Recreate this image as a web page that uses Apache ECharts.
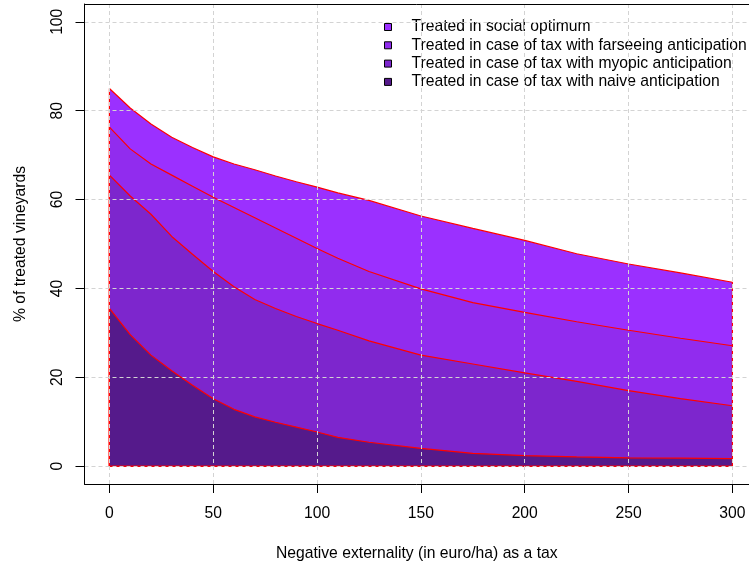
<!DOCTYPE html>
<html>
<head>
<meta charset="utf-8">
<script src="https://cdn.jsdelivr.net/npm/echarts@6/dist/echarts.min.js"></script>
<style>html,body{margin:0;padding:0;background:#fff}#c{width:749px;height:564px}</style>
</head>
<body>
<div id="c"></div>
<script>
// ---- data ----
var taxLevels = [0, 10, 20, 30, 40, 50, 60, 70, 80, 90, 100, 110, 125, 150, 175, 200, 225, 250, 275, 300];
var socialOptimum = [85, 80.6, 77, 74, 71.7, 69.6, 68, 66.7, 65.3, 64, 62.8, 61.5, 59.8, 56.3, 53.5, 50.8, 47.8, 45.5, 43.5, 41.4];
var farseeing = [76.3, 71.4, 68, 65.5, 63, 60.5, 58.2, 55.9, 53.6, 51.3, 49, 46.8, 43.8, 39.9, 36.8, 34.6, 32.5, 30.6, 28.8, 27.1];
var myopic = [65.5, 60.8, 56.7, 51.7, 47.7, 43.8, 40.4, 37.5, 35.5, 33.7, 32.1, 30.6, 28.2, 25, 23, 21, 19.1, 17, 15.2, 13.6];
var naive = [35.5, 29.6, 25, 21.5, 18.2, 15.2, 12.8, 11.1, 9.9, 8.8, 7.7, 6.5, 5.4, 4.0, 2.9, 2.4, 2.1, 1.9, 1.8, 1.7];
var seriesNames = [
  'Treated in social optimum',
  'Treated in case of tax with farseeing anticipation',
  'Treated in case of tax with myopic anticipation',
  'Treated in case of tax with naive anticipation'
];
var xTicks = [0, 50, 100, 150, 200, 250, 300];
var yTicks = [0, 20, 40, 60, 80, 100];

var fills = ['#9B30FF', '#912CEE', '#7D26CD', '#551A8B'];
var allValues = [socialOptimum, farseeing, myopic, naive];

function polygon(vals) {
  var pts = [[taxLevels[0], 0]];
  for (var i = 0; i < taxLevels.length; i++) pts.push([taxLevels[i], vals[i]]);
  pts.push([taxLevels[taxLevels.length - 1], 0]);
  pts.push([taxLevels[0], 0]);
  return pts;
}

var FONT = 'Liberation Sans, Arial, sans-serif';
var FS = 15.7;
var chart = echarts.init(document.getElementById('c'), null, {renderer: 'canvas'});
var series = allValues.map(function (v, i) {
  return {
    name: seriesNames[i],
    type: 'line',
    data: polygon(v),
    showSymbol: false,
    symbol: 'none',
    smooth: false,
    animation: false,
    z: 2 + i,
    itemStyle: {color: fills[i]},
    lineStyle: {color: '#FF0000', width: 1.2},
    areaStyle: {color: fills[i], opacity: 1}
  };
});

var gridLine = {show: true, lineStyle: {color: '#D3D3D3', type: [4, 3], width: 1}};

chart.setOption({
  animation: false,
  backgroundColor: '#fff',
  grid: {left: 84.5, top: 4, right: 0, bottom: 80, show: false, containLabel: false, outerBoundsMode: 'none'},
  legend: {
    orient: 'vertical',
    left: 379,
    top: 13,
    icon: 'rect',
    itemWidth: 7,
    itemHeight: 7,
    itemGap: 0.3,
    selectedMode: false,
    textStyle: {fontFamily: FONT, fontSize: FS, color: '#000', padding: [0, 0, 0, 15], lineHeight: 18},
    data: seriesNames.map(function (n, i) {
      return {name: n, icon: 'rect', itemStyle: {color: fills[i], borderColor: '#000', borderWidth: 1}};
    })
  },
  xAxis: [{
    type: 'value',
    min: -12,
    max: 308,
    z: 10,
    name: 'Negative externality (in euro/ha) as a tax',
    nameLocation: 'middle',
    nameGap: 62,
    nameTextStyle: {fontFamily: FONT, fontSize: FS, color: '#000'},
    axisLine: {show: true, onZero: false, lineStyle: {color: '#000', width: 1}},
    axisTick: {show: true, length: 9, customValues: xTicks, lineStyle: {color: '#000'}},
    axisLabel: {customValues: xTicks, margin: 22, fontFamily: FONT, fontSize: FS, color: '#000'},
    splitLine: gridLine
  }, {
    type: 'value',
    position: 'top',
    min: -12,
    max: 308,
    z: 10,
    axisLine: {show: true, onZero: false, lineStyle: {color: '#000', width: 1}},
    axisTick: {show: false},
    axisLabel: {show: false},
    splitLine: {show: false}
  }],
  yAxis: {
    type: 'value',
    min: -4,
    max: 104,
    z: 10,
    name: '% of treated vineyards',
    nameLocation: 'middle',
    nameGap: 56,
    nameRotate: 90,
    nameTextStyle: {fontFamily: FONT, fontSize: FS, color: '#000'},
    axisLine: {show: true, onZero: false, lineStyle: {color: '#000', width: 1}},
    axisTick: {show: true, length: 9, customValues: yTicks, lineStyle: {color: '#000'}},
    axisLabel: {customValues: yTicks, rotate: 90, margin: 19, fontFamily: FONT, fontSize: FS, color: '#000'},
    splitLine: gridLine
  },
  series: series
});
</script>
</body>
</html>
